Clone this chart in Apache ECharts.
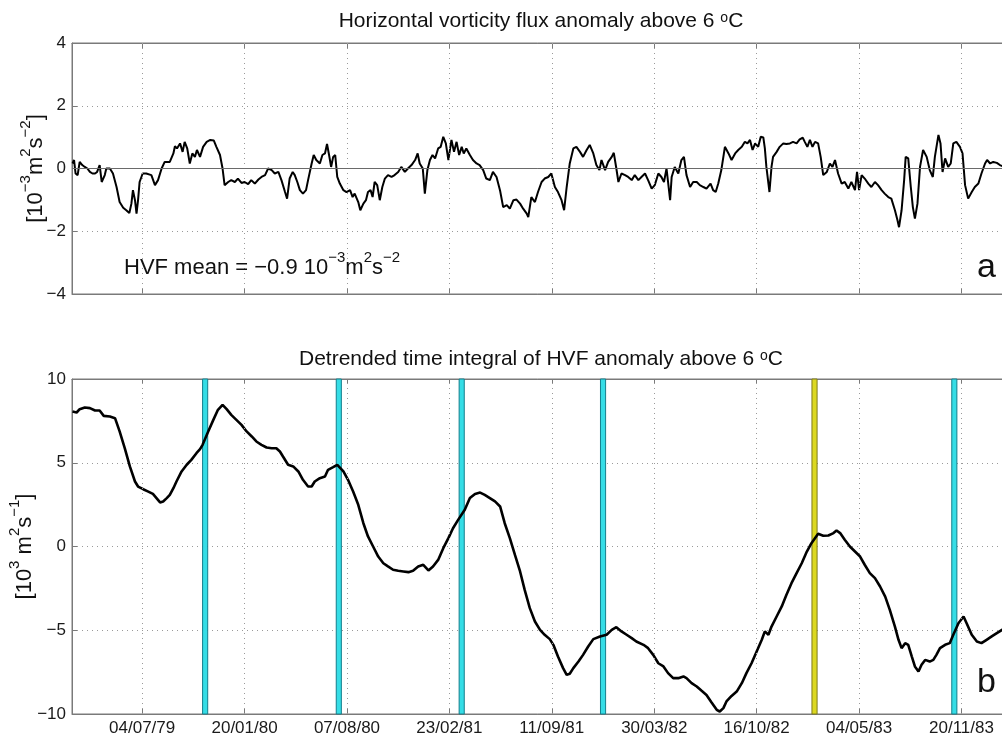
<!DOCTYPE html>
<html><head><meta charset="utf-8">
<script src="https://cdn.jsdelivr.net/npm/echarts@6/dist/echarts.min.js"></script>
<style>html,body{margin:0;padding:0;background:#fff}#c{width:1002px;height:740px}</style>
</head><body><div id="c"></div>
<script>
// x values are days relative to 04/07/1979
const tickDays = [0,200,400,600,800,1000,1200,1400,1600];
const xMinDay = -137, xMaxDay = 1683;

// Panel a: horizontal vorticity flux anomaly [1e-3 m2 s-2]
const hvfDays = [
-136,-133,-130,-126,-122,-117,-112,-107,-102,-97,
-92,-88,-83,-79,-73,-70,-63,-57,-50,-44,
-37,-31,-25,-21,-18,-14,-11,-8,-5,1,
8,18,25,31,38,44,54,61,64,68,
74,79,83,88,93,98,103,107,113,119,
126,133,140,145,152,157,161,168,174,181,
187,194,200,207,213,220,227,233,240,246,
253,259,266,272,279,283,288,294,298,303,
308,314,320,324,331,335,340,347,352,357,
361,365,369,373,377,381,386,393,399,406,
411,415,422,426,432,437,441,446,450,454,
459,464,469,474,480,487,493,500,506,513,
519,526,533,538,542,548,552,557,562,567,
572,578,583,588,593,598,604,609,614,619,
624,628,633,640,646,653,659,666,672,679,
685,692,699,705,712,718,725,731,738,744,
751,754,760,767,773,780,786,793,799,806,
812,819,824,829,835,842,848,855,861,868,
874,881,887,893,897,904,910,917,921,926,
930,936,943,949,956,962,969,975,982,988,
995,1001,1008,1014,1019,1024,1031,1034,1040,1047,
1053,1058,1063,1070,1076,1083,1089,1096,1102,1110,
1115,1120,1125,1131,1138,1145,1151,1158,1164,1171,
1177,1182,1187,1192,1197,1203,1208,1213,1216,1219,
1225,1229,1232,1239,1245,1252,1258,1265,1271,1278,
1284,1290,1294,1299,1304,1309,1314,1320,1325,1330,
1337,1343,1348,1353,1359,1366,1372,1379,1385,1392,
1396,1400,1405,1411,1418,1424,1431,1437,1444,1450,
1457,1463,1470,1475,1478,1483,1488,1491,1496,1501,
1505,1509,1514,1519,1525,1532,1538,1544,1548,1555,
1559,1563,1568,1574,1579,1584,1590,1597,1602,1607,
1613,1620,1626,1633,1639,1646,1650,1656,1662,1669,
1675,1683];
const hvfValues = [
0.16,0.27,-0.16,-0.21,0.21,0.11,0.05,0,-0.11,-0.16,
-0.16,-0.11,0.11,-0.43,-0.21,0,0,-0.16,-0.59,-1.07,
-1.25,-1.33,-1.42,-1.12,-0.69,-1.01,-1.44,-1.01,-0.43,-0.16,
-0.16,-0.21,-0.53,-0.37,0,0.21,0.21,0.48,0.71,0.64,
0.80,0.53,0.85,0.64,0.16,0.48,0.37,0.59,0.37,0.69,
0.85,0.91,0.89,0.69,0.43,0,-0.53,-0.43,-0.37,-0.43,
-0.32,-0.46,-0.43,-0.50,-0.37,-0.48,-0.35,-0.27,-0.21,0,
-0.05,-0.16,-0.11,-0.37,-0.75,-0.96,-0.32,-0.11,-0.21,-0.43,
-0.69,-0.80,-0.69,-0.37,0.16,0.43,0.27,0.16,0.43,0.48,
0.78,0.43,0.05,0.37,0.43,-0.27,-0.48,-0.69,-0.75,-0.69,
-0.91,-0.80,-1.07,-1.33,-1.12,-1.01,-0.75,-0.69,-0.91,-0.43,
-0.53,-1.01,-0.59,-0.32,-0.21,-0.27,-0.21,-0.11,0.05,-0.11,
0,0.11,0.27,0.48,0.16,0,-0.80,-0.05,0.27,0.43,
0.32,0.64,0.69,1.01,0.80,0.27,0.91,0.53,0.85,0.43,
0.69,0.48,0.64,0.43,0.27,0.16,0.11,-0.05,-0.32,-0.37,
-0.11,-0.27,-0.71,-1.23,-1.17,-1.28,-1.01,-0.99,-1.12,-1.28,
-1.44,-1.55,-0.91,-1.07,-0.75,-0.43,-0.32,-0.27,-0.16,-0.59,
-0.75,-1.01,-1.33,-0.59,0.16,0.64,0.69,0.53,0.37,0.59,
0.75,0.48,0.11,-0.05,0.27,-0.05,0.21,0.37,0.50,0,
-0.43,-0.16,-0.21,-0.27,-0.37,-0.21,-0.37,-0.27,-0.16,-0.37,
-0.64,-0.53,-0.16,-0.27,-0.43,0,-1.01,-0.27,0.05,-0.16,
0.27,0.37,-0.21,-0.59,-0.43,-0.43,-0.53,-0.59,-0.64,-0.48,
-0.69,-0.75,-0.48,-0.05,0.69,0.48,0.27,0.48,0.59,0.69,
0.85,0.80,0.91,0.59,0.80,0.69,1.01,0.99,0.64,0.05,
-0.75,0.05,0.37,0.53,0.69,0.80,0.78,0.80,0.85,0.80,
0.93,0.98,0.85,0.69,0.91,0.69,0.85,0.80,0.37,-0.21,
-0.11,0.16,0.05,0.27,-0.16,-0.48,-0.43,-0.64,-0.43,-0.69,
-0.11,-0.69,-0.21,-0.32,-0.48,-0.59,-0.43,-0.53,-0.69,-0.80,
-0.91,-0.96,-1.33,-1.65,-1.87,-1.33,-0.37,0.37,0.32,-0.59,
-1.23,-1.60,-1.12,0.05,0.59,0.37,-0.05,-0.27,0.37,1.07,
0.80,-0.11,0.32,0.05,0.16,0.80,0.85,0.69,0.48,-0.53,
-0.96,-0.75,-0.59,-0.48,-0.16,0.16,0.27,0.16,0.21,0.18,
0.11,0.05];

// Panel b: detrended time integral of HVF anomaly [1e3 m2 s-1]
const intDays = [
-136,-128,-122,-112,-102,-92,-83,-75,-63,-53,
-44,-34,-24,-14,-8,2,12,21,28,35,
41,48,54,61,67,77,87,96,106,113,
118,129,139,148,157,165,174,184,194,204,
214,223,233,243,253,262,269,275,285,295,
305,314,324,331,337,347,357,363,373,381,
393,402,412,422,432,441,451,461,471,480,
490,500,510,520,529,539,549,559,568,578,
588,598,607,617,630,640,650,660,669,679,
689,699,708,718,728,738,747,757,767,777,
786,796,803,812,822,829,835,842,852,861,
871,881,894,907,917,926,936,946,956,965,
979,988,998,1008,1018,1027,1037,1047,1057,1063,
1073,1083,1092,1102,1112,1122,1128,1135,1141,1151,
1161,1171,1180,1190,1200,1210,1216,1223,1229,1239,
1249,1258,1268,1278,1288,1298,1307,1320,1330,1340,
1350,1356,1363,1372,1382,1392,1402,1411,1421,1431,
1441,1451,1460,1470,1477,1483,1490,1496,1503,1509,
1516,1522,1529,1538,1545,1551,1558,1568,1577,1584,
1594,1604,1610,1620,1630,1639,1649,1659,1669,1679,
1683];
const intValues = [
8.06,8.00,8.20,8.30,8.26,8.12,8.12,7.80,7.76,7.66,
6.87,5.87,4.78,3.88,3.58,3.42,3.28,3.14,2.89,2.63,
2.69,2.89,3.08,3.48,3.88,4.48,4.88,5.17,5.57,5.81,
6.07,6.87,7.56,8.16,8.46,8.20,7.86,7.56,7.26,6.87,
6.57,6.27,6.07,5.91,5.87,5.87,5.67,5.37,4.88,4.78,
4.48,3.98,3.58,3.58,3.88,4.08,4.18,4.58,4.74,4.88,
4.48,3.98,3.28,2.49,1.39,0.60,0,-0.60,-1.00,-1.19,
-1.39,-1.45,-1.49,-1.53,-1.45,-1.19,-1.09,-1.43,-1.19,-0.80,
-0.10,0.50,1.09,1.59,2.19,2.89,3.14,3.22,3.08,2.89,
2.69,2.39,1.39,0.50,-0.50,-1.49,-2.59,-3.68,-4.48,-4.98,
-5.27,-5.53,-5.87,-6.57,-7.26,-7.66,-7.60,-7.26,-6.87,-6.47,
-5.97,-5.53,-5.37,-5.27,-4.98,-4.82,-5.07,-5.27,-5.47,-5.67,
-5.87,-6.07,-6.47,-6.97,-7.16,-7.56,-7.86,-7.86,-7.76,-7.86,
-8.16,-8.36,-8.60,-8.86,-9.31,-9.75,-9.85,-9.65,-9.25,-8.92,
-8.66,-8.16,-7.56,-6.97,-6.27,-5.57,-5.07,-5.27,-4.78,-4.18,
-3.58,-2.89,-2.19,-1.59,-1.00,-0.30,0.20,0.76,0.64,0.66,
0.80,0.96,0.80,0.40,0,-0.30,-0.60,-1.09,-1.59,-1.89,
-2.39,-2.99,-3.78,-4.78,-5.57,-6.07,-5.77,-5.87,-6.57,-7.16,
-7.46,-7.06,-6.77,-6.87,-6.77,-6.47,-6.07,-5.87,-5.77,-5.27,
-4.58,-4.18,-4.58,-5.27,-5.67,-5.77,-5.57,-5.37,-5.17,-4.98,
-4.90];

// Marked events (days), cyan = type 1, yellow = type 2
const cyanEventDays = [123, 384, 624, 900, 1586];
const yellowEventDays = [1313];
const eventHalfWidth = 5;

const title1Text = '{t|Horizontal vorticity flux anomaly above 6 }{o|o}{t|C}';
const title2Text = '{t|Detrended time integral of HVF anomaly above 6 }{o|o}{t|C}';
const hvfMeanText = '{b|HVF mean = −0.9 10}{s|−3}{b|m}{s|2}{b|s}{s|−2}';
const yName1 = '{b|[10}{s|−3}{b|m}{s|2}{b|s}{s|−2}{b|]}';
const yName2 = '{b|[10}{s|3}{b| m}{s|2}{b|s}{s|−1}{b|]}';

const FONT = 'Liberation Sans';
const epoch = Date.UTC(1979, 6, 4);
function pad(n){ return (n < 10 ? '0' : '') + n; }
function dayLabel(d){
  const t = new Date(epoch + Math.round(d) * 86400000);
  return pad(t.getUTCDate()) + '/' + pad(t.getUTCMonth() + 1) + '/' + String(t.getUTCFullYear()).slice(2);
}
function minusFmt(v){ return String(v).replace('-', '−'); }
function zip(a, b){ return a.map((x, i) => [x, b[i]]); }

const supRich = {
  b: { fontFamily: FONT, fontSize: 22, fontWeight: 'normal', lineHeight: 29, verticalAlign: 'bottom', color: '#111' },
  s: { fontFamily: FONT, fontSize: 15, fontWeight: 'normal', lineHeight: 15, verticalAlign: 'top', color: '#111' }
};
const titleRich = {
  t: { fontFamily: FONT, fontSize: 21, fontWeight: 'normal', lineHeight: 21, verticalAlign: 'bottom', color: '#111' },
  o: { fontFamily: FONT, fontSize: 14, fontWeight: 'normal', lineHeight: 14, verticalAlign: 'top', color: '#111' }
};

const gridLeft = 72, gridWidth = 932;
const grids = [
  { left: gridLeft, top: 43, width: gridWidth, height: 251, show: true, borderColor: '#7a7a7a', borderWidth: 1, backgroundColor: 'transparent', containLabel: false, outerBoundsMode: 'none' },
  { left: gridLeft, top: 379, width: gridWidth, height: 335, show: true, borderColor: '#7a7a7a', borderWidth: 1, backgroundColor: 'transparent', containLabel: false, outerBoundsMode: 'none' }
];

function xAxisFor(gi, pos, showLabels){
  return {
    type: 'value', gridIndex: gi, position: pos, min: xMinDay, max: xMaxDay,
    axisLine: { show: true, onZero: false, lineStyle: { color: '#7a7a7a', width: 1 } },
    axisTick: { show: true, inside: true, length: 5, customValues: tickDays, lineStyle: { color: '#7a7a7a' } },
    axisLabel: { show: showLabels, customValues: tickDays, formatter: dayLabel, fontFamily: FONT, fontSize: 17, color: '#1a1a1a', margin: 6 },
    splitLine: { show: false }
  };
}
function yAxisFor(gi, min, max, interval, nameText, gap){
  return {
    type: 'value', gridIndex: gi, min: min, max: max, interval: interval,
    axisLine: { show: true, onZero: false, lineStyle: { color: '#7a7a7a', width: 1 } },
    axisTick: { show: true, inside: true, length: 5, lineStyle: { color: '#7a7a7a' } },
    axisLabel: { formatter: minusFmt, fontFamily: FONT, fontSize: 17, color: '#1a1a1a', margin: 6 },
    splitLine: { show: true, lineStyle: { color: '#9a9a9a', type: [1, 4], width: 1 } },
    name: nameText, nameLocation: 'middle', nameRotate: 90, nameGap: gap, nameMoveOverlap: false,
    nameTextStyle: { rich: supRich }
  };
}

function gridLineSeries(xi, yi, withZero){
  const d = tickDays.map(t => ({ xAxis: t }));
  if (withZero) d.push({ yAxis: 0, lineStyle: { type: 'solid', color: '#6a6a6a', width: 1 } });
  return {
    type: 'line', xAxisIndex: xi, yAxisIndex: yi, data: [], z: 1, silent: true,
    markLine: { silent: true, symbol: ['none', 'none'], label: { show: false }, animation: false,
      lineStyle: { color: '#9a9a9a', type: [1, 4], width: 1 }, data: d }
  };
}
function eventArea(days, fill, edge){
  return days.map(c => [
    { xAxis: c - eventHalfWidth, itemStyle: { color: fill, borderColor: edge, borderWidth: 1 } },
    { xAxis: c + eventHalfWidth }
  ]);
}

const option = {
  animation: false,
  backgroundColor: '#ffffff',
  grid: grids,
  title: [
    { text: title1Text, left: 541, top: 11, textAlign: 'center', padding: 0, textStyle: { rich: titleRich } },
    { text: title2Text, left: 541, top: 349, textAlign: 'center', padding: 0, textStyle: { rich: titleRich } },
    { text: hvfMeanText, left: 124, top: 250, padding: 0, textStyle: { rich: supRich } },
    { text: 'a', left: 977, top: 251, padding: 0, textStyle: { fontFamily: FONT, fontSize: 34, fontWeight: 'normal', color: '#111' } },
    { text: 'b', left: 977, top: 666, padding: 0, textStyle: { fontFamily: FONT, fontSize: 34, fontWeight: 'normal', color: '#111' } }
  ],
  xAxis: [ xAxisFor(0, 'bottom', false), xAxisFor(0, 'top', false), xAxisFor(1, 'bottom', true), xAxisFor(1, 'top', false) ],
  yAxis: [
    yAxisFor(0, -4, 4, 2, yName1, 25),
    yAxisFor(1, -10, 10, 5, yName2, 36)
  ],
  series: [
    gridLineSeries(0, 0, true),
    gridLineSeries(2, 1, false),
    { type: 'line', xAxisIndex: 2, yAxisIndex: 1, data: [], z: 2, silent: true,
      markArea: { silent: true, label: { show: false },
        data: eventArea(cyanEventDays, '#35dde6', '#147f8c').concat(eventArea(yellowEventDays, '#dcd820', '#7d7a1c')) } },
    { type: 'line', xAxisIndex: 0, yAxisIndex: 0, data: zip(hvfDays, hvfValues), showSymbol: false, z: 3,
      lineStyle: { color: '#000', width: 2 }, itemStyle: { color: '#000' } },
    { type: 'line', xAxisIndex: 2, yAxisIndex: 1, data: zip(intDays, intValues), showSymbol: false, z: 3,
      lineStyle: { color: '#000', width: 2.6 }, itemStyle: { color: '#000' } }
  ]
};
echarts.init(document.getElementById('c'), null, { renderer: 'canvas' }).setOption(option);
</script></body></html>
